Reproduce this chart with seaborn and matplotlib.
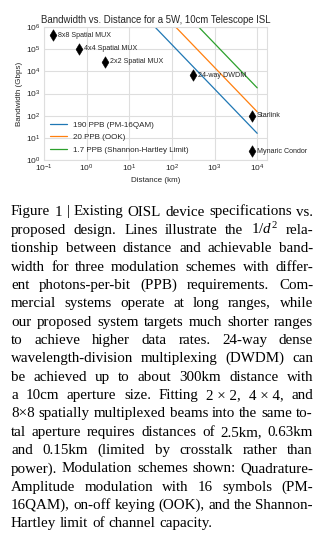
import matplotlib
matplotlib.use("Agg")
import matplotlib.pyplot as plt
import seaborn as sns
import pandas as pd

# ---------------- data ----------------
line_distance_km = [10, 10000]
bw_pm16qam = [1.6e7, 16]
bw_ook = [1.5e8, 150]
bw_shannon = [1.8e9, 1800]
series_names = ["190 PPB (PM-16QAM)", "20 PPB (OOK)", "1.7 PPB (Shannon-Hartley Limit)"]

device_names = ["8x8 Spatial MUX", "4x4 Spatial MUX", "2x2 Spatial MUX",
                "24-way DWDM", "Starlink", "Mynaric Condor"]
device_distance_km = [0.16, 0.67, 2.7, 310, 7500, 7500]
device_bandwidth_gbps = [4.3e5, 1.07e5, 2.7e4, 6.7e3, 100, 2.5]

caption_lines = [
    "Figure 1 | Existing OISL device specifications vs.",
    "proposed design. Lines illustrate the $1/d^2$ rela-",
    "tionship between distance and achievable band-",
    "width for three modulation schemes with differ-",
    "ent photons-per-bit (PPB) requirements. Com-",
    "mercial systems operate at long ranges, while",
    "our proposed system targets much shorter ranges",
    "to achieve higher data rates.  24-way dense",
    "wavelength-division multiplexing (DWDM) can",
    "be achieved up to about 300km distance with",
    "a 10cm aperture size. Fitting 2\u00a0\u00d7\u00a02, 4\u00a0\u00d7\u00a04, and",
    "8\u00d78 spatially multiplexed beams into the same to-",
    "tal aperture requires distances of 2.5km, 0.63km",
    "and 0.15km (limited by crosstalk rather than",
    "power). Modulation schemes shown: Quadrature-",
    "Amplitude modulation with 16 symbols (PM-",
    "16QAM), on-off keying (OOK), and the Shannon-",
    "Hartley limit of channel capacity.",
]

# ---------------- style ----------------
sns.set_style("whitegrid")
plt.rcParams["font.family"] = ["Liberation Sans", "DejaVu Sans"]
plt.rcParams["mathtext.fontset"] = "custom"
plt.rcParams["mathtext.rm"] = "Liberation Serif"
plt.rcParams["mathtext.it"] = "Liberation Serif:italic"

W, H = 325, 536
fig = plt.figure(figsize=(W / 100, H / 100), dpi=100)
ax = fig.add_axes([44 / W, 1 - 160 / H, (267 - 44) / W, (160 - 27) / H])

lines_df = pd.DataFrame({
    "distance": line_distance_km * 3,
    "bandwidth": bw_pm16qam + bw_ook + bw_shannon,
    "scheme": [series_names[0]] * 2 + [series_names[1]] * 2 + [series_names[2]] * 2,
})
palette = ["#1f77b4", "#ff7f0e", "#2ca02c"]
sns.lineplot(data=lines_df, x="distance", y="bandwidth", hue="scheme",
             hue_order=series_names, palette=palette, linewidth=0.9, ax=ax)

dev_df = pd.DataFrame({"distance": device_distance_km,
                       "bandwidth": device_bandwidth_gbps,
                       "name": device_names})
sns.scatterplot(data=dev_df, x="distance", y="bandwidth", marker="d",
                color="black", s=34, edgecolor="black", linewidth=0.4,
                ax=ax, legend=False, zorder=5)
for d, b, n in zip(device_distance_km, device_bandwidth_gbps, device_names):
    ax.annotate(n, (d, b), xytext=(3.5, 0), textcoords="offset points",
                va="center", ha="left", fontsize=5.1, color="0.15", zorder=6)

ax.set_xscale("log")
ax.set_yscale("log")
ax.set_xlim(0.1, 10 ** 4.23)
ax.set_ylim(1, 1e6)
ax.set_xticks([1e-1, 1e0, 1e1, 1e2, 1e3, 1e4])
ax.set_yticks([1e0, 1e1, 1e2, 1e3, 1e4, 1e5, 1e6])
ax.minorticks_off()
ax.tick_params(labelsize=6, pad=2.3, colors="0.15", length=0)
ax.tick_params(axis="y", pad=2.5)
ax.grid(True, color="0.87", linewidth=0.8)
for s in ax.spines.values():
    s.set_color("0.87")
    s.set_linewidth(0.8)
ax.set_xlabel("Distance (km)", fontsize=5.8, labelpad=2, color="0.15")
ax.set_ylabel("Bandwidth (Gbps)", fontsize=5.8, labelpad=2, color="0.15")
ax.set_title("Bandwidth vs. Distance for a 5W, 10cm Telescope ISL",
             fontsize=6.9, pad=3, color="0.15")
leg = ax.legend(loc="lower left", frameon=False, fontsize=5.8,
                handlelength=2.0, borderaxespad=0.4, labelspacing=0.6)

# ---------------- caption (justified) ----------------
renderer = fig.canvas.get_renderer()
left_px, right_px = 11, 313
text_w = right_px - left_px
base0, spacing = 215.5, 18.35
cap_family = "Liberation Serif"

def measure(s, fs):
    t = fig.text(0, 0, s, fontsize=fs, family=cap_family)
    w = t.get_window_extent(renderer).width
    t.remove()
    return w

probe = 10.0
sp_probe = measure("a a", probe) - measure("aa", probe)
max_nat = 0
for ln in caption_lines[:-1]:
    words = [w for w in ln.split(" ") if w]
    nat = sum(measure(w, probe) for w in words) + sp_probe * 0.95 * (len(words) - 1)
    max_nat = max(max_nat, nat)
fs = min(11.5, probe * text_w / max_nat)
space_w = measure("a a", fs) - measure("aa", fs)

for i, ln in enumerate(caption_lines):
    y = 1 - (base0 + i * spacing) / H
    words = [w for w in ln.split(" ") if w]
    texts = [fig.text(0, y, w, fontsize=fs, family=cap_family,
                      va="baseline", ha="left", color="black") for w in words]
    widths = [t.get_window_extent(renderer).width for t in texts]
    if i == len(caption_lines) - 1 or len(words) == 1:
        gap = space_w
    else:
        gap = (text_w - sum(widths)) / (len(words) - 1)
    x = left_px
    for t, w in zip(texts, widths):
        t.set_x(x / W)
        x += w + gap

fig.savefig("out.png", dpi=100)
